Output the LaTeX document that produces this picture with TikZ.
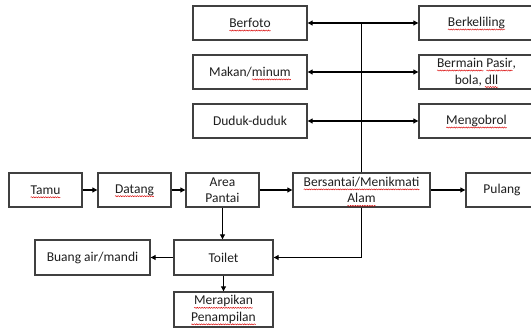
\documentclass[tikz,border=0pt]{standalone}
\usepackage{fontspec}
\setmainfont{Carlito}
\usetikzlibrary{arrows.meta,decorations.pathmorphing}

% red wavy underline used for the spell-checker marks
\newsavebox\sqbox
\newcommand{\sq}[1]{\sbox\sqbox{#1}\leavevmode\rlap{\usebox\sqbox}%
  \tikz[baseline=0pt,x=1pt,y=1pt]{%
    \useasboundingbox (0pt,-\the\dp\sqbox) rectangle (\the\wd\sqbox,\the\ht\sqbox);
    \draw[red!85!black, line width=0.45pt, decorate,
      decoration={snake,amplitude=0.55pt,segment length=2.4pt}]
      (0pt,-3pt) -- (\the\wd\sqbox,-3pt);}}

\tikzset{
  box/.style={draw=black!75, line width=1.4pt, fill=white, align=center,
    inner sep=0pt, text=black!88,
    font=\fontsize{13.5}{16.5}\selectfont},
  link/.style={line width=1.1pt, draw=black},
  arr/.style={link, -{Triangle[length=5pt,width=5pt]}}
}

\begin{document}
\begin{tikzpicture}[x=1pt,y=-1pt]
\useasboundingbox (0,0) rectangle (531,328);

% activity boxes, left column
\node[box, minimum width=114pt, minimum height=34pt] (berfoto) at (250,23) {\sq{Berfoto}};
\node[box, minimum width=114pt, minimum height=34pt] (makan) at (250,72) {Makan/\sq{minum}};
\node[box, minimum width=114pt, minimum height=34pt] (duduk) at (250,121) {Duduk-duduk};

% activity boxes, right column
\node[box, minimum width=115pt, minimum height=34pt] (keliling) at (476.5,23) {\sq{Berkeliling}};
\node[box, minimum width=115pt, minimum height=34pt] (bermain) at (476.5,72) {\sq{Bermain} \sq{Pasir},\\ bola, \sq{dll}};
\node[box, minimum width=115pt, minimum height=34pt] (ngobrol) at (476.5,121) {\sq{Mengobrol}};

% main flow
\node[box, minimum width=73pt, minimum height=34pt] (tamu) at (45.5,190) {\sq{Tamu}};
\node[box, minimum width=73pt, minimum height=34pt] (datang) at (134.5,190) {\sq{Datang}};
\node[box, minimum width=73pt, minimum height=34pt] (area) at (222.5,190) {Area\\ Pantai};
\node[box, minimum width=137pt, minimum height=34pt] (santai) at (361.5,190) {\sq{Bersantai/Menikmati}\\ \sq{Alam}};
\node[box, minimum width=72pt, minimum height=34pt] (pulang) at (502,190) {Pulang};

% toilet branch
\node[box, minimum width=99pt, minimum height=35pt] (toilet) at (223.5,257.5) {Toilet};
\node[box, minimum width=115pt, minimum height=35pt] (buang) at (92.5,257.5) {Buang air/mandi};
\node[box, minimum width=99pt, minimum height=35pt] (rapi) at (223.5,309.5) {\sq{Merapikan}\\ \sq{Penampilan}};

% flow connectors
\draw[arr] (tamu) -- (datang);
\draw[arr] (datang) -- (area);
\draw[arr] (area) -- (santai);
\draw[arr] (santai) -- (pulang);
\draw[arr] (area.south) -- (area.south |- toilet.north);
\draw[arr] (toilet) -- (buang);
\draw[arr] (toilet.south) -- (rapi.north);
\draw[arr] (santai.south) |- (toilet.east);

% trunk feeding the activity rows
\coordinate (hub) at (santai.north |- berfoto.east);
\draw[link] (santai.north) -- (hub);
\foreach \l/\r in {berfoto/keliling, makan/bermain, duduk/ngobrol}{
  \draw[arr] (santai.north |- \l.east) -- (\l.east);
  \draw[arr] (santai.north |- \r.west) -- (\r.west);
}
\end{tikzpicture}
\end{document}
